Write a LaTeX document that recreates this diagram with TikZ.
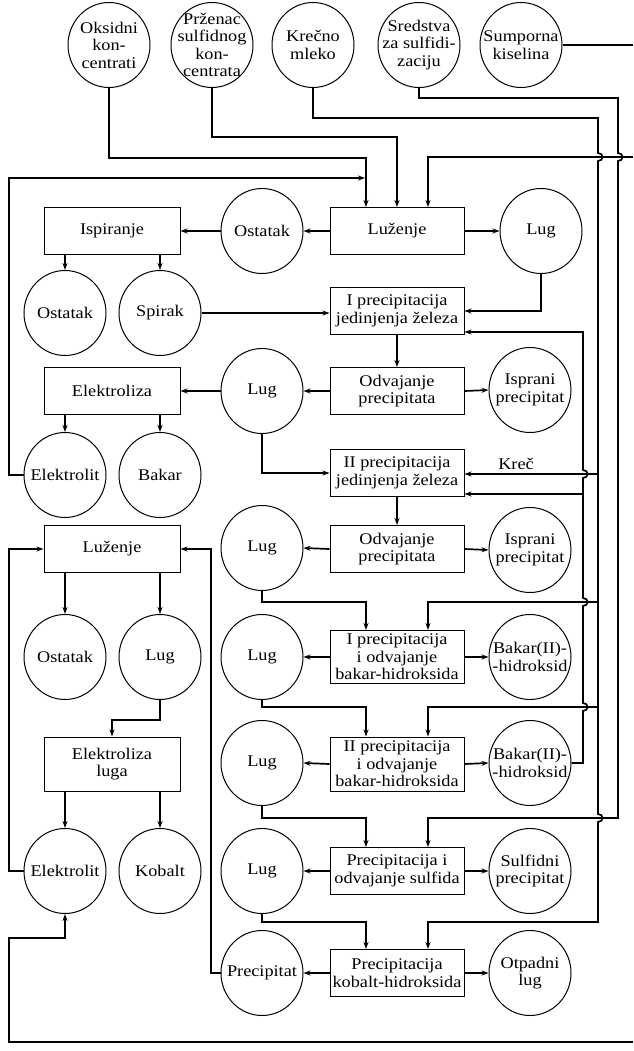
\documentclass[tikz,border=0pt]{standalone}
\usepackage{fontspec}
\setmainfont[FakeStretch=1.12]{Liberation Serif}
\usetikzlibrary{shapes.geometric,arrows.meta}
\begin{document}
\begin{tikzpicture}[x=1pt,y=-1pt,
  circ/.style={ellipse,draw,line width=1pt,minimum width=82pt,minimum height=85pt,inner sep=0pt},
  txt/.style={align=center,inner sep=0pt,font=\fontsize{16.3}{17.5}\selectfont},
  box/.style={rectangle,draw,line width=1pt,minimum width=134pt,minimum height=47pt,inner sep=0pt,align=center,font=\fontsize{16.3}{17.5}\selectfont},
  lbox/.style={box,minimum width=136pt},
  conn/.style={line width=1.7pt},
  arr/.style={conn,-{Stealth[length=7pt,width=5pt]}},
]
\useasboundingbox (0,0) rectangle (633,1051);
\newcommand\mycirc[3]{\node[circ] (#1) at (#2) {}; \node[txt] (#1t) at (#1) {#3};}

% top row
\mycirc{Oks}{109,45}{Oksidni\\kon-\\centrati}
\mycirc{Prz}{212,45}{Prženac\\sulfidnog\\kon-\\centrata}
\mycirc{Krec}{313,45}{Krečno\\mleko}
\mycirc{Sred}{419,45}{Sredstva\\za sulfidi-\\zaciju}
\mycirc{Sump}{521,45}{Sumporna\\kiselina}

% boxes
\node[box] (Luz1) at (397,231) {Luženje};
\node[lbox] (Isp) at (112,231) {Ispiranje};
\node[box] (Iprec) at (397,311) {I precipitacija\\jedinjenja železa};
\node[box] (Odv1) at (397,391) {Odvajanje\\precipitata};
\node[lbox] (Elz) at (112,391) {Elektroliza};
\node[box] (IIprec) at (397,473) {II precipitacija\\jedinjenja železa};
\node[box] (Odv2) at (397,549) {Odvajanje\\precipitata};
\node[lbox] (Luz2) at (112,549) {Luženje};
\node[box,minimum height=53pt] (Ibak) at (397,657) {I precipitacija\\i odvajanje\\bakar-hidroksida};
\node[box,minimum height=54pt] (IIbak) at (397,764) {II precipitacija\\i odvajanje\\bakar-hidroksida};
\node[lbox,minimum height=54pt] (Elzl) at (112,764) {Elektroliza\\luga};
\node[box] (Sulf) at (397,871) {Precipitacija i\\odvajanje sulfida};
\node[box] (KobH) at (397,973) {Precipitacija\\kobalt-hidroksida};

% circles
\mycirc{Ost1}{262,231}{Ostatak}
\mycirc{Lug1}{541,231}{Lug}
\mycirc{Ost2}{65,313}{Ostatak}
\mycirc{Spir}{160,313}{Spirak}
\mycirc{Lug2}{262,391}{Lug}
\mycirc{Isp1}{530,390}{Isprani\\precipitat}
\mycirc{Elt1}{65,475}{Elektrolit}
\mycirc{Bak}{160,475}{Bakar}
\mycirc{Lug3}{262,548}{Lug}
\mycirc{Isp2}{530,550}{Isprani\\precipitat}
\mycirc{Ost3}{65,657}{Ostatak}
\mycirc{Lug4}{160,657}{Lug}
\mycirc{LugB1}{262,657}{Lug}
\mycirc{Bh1}{530,657}{Bakar(II)-\\-hidroksid}
\mycirc{LugB2}{262,763}{Lug}
\mycirc{Bh2}{530,763}{Bakar(II)-\\-hidroksid}
\mycirc{Elt2}{65,871}{Elektrolit}
\mycirc{Kobalt}{160,871}{Kobalt}
\mycirc{LugS}{262,871}{Lug}
\mycirc{Sp}{530,871}{Sulfidni\\precipitat}
\mycirc{Prec}{262,973}{Precipitat}
\mycirc{Otp}{530,973}{Otpadni\\lug}

\node[txt] (krecl) at (516,464) {Kreč};

% helper coordinates
\coordinate (lx) at (366,0);
\coordinate (kx) at (428,0);
\coordinate (eTop) at (633,45);
\coordinate (eMid) at (633,157);
\coordinate (eBot) at (633,1042);
\coordinate (k1) at (598,474);
\coordinate (k2) at (598,602);
\coordinate (k3) at (598,707);
\coordinate (cu1) at (583,332);
\coordinate (cu2) at (583,494);

% feeds to first leaching
\draw[arr] (Oks.south) |- (366,158) -- (Luz1.north -| lx);
\draw[arr] (Prz.south) |- (397,137) -- (Luz1.north);
\draw[conn,line width=1.2pt] (Sump.east) -- (eTop);
\draw[arr] (eMid) -| (Luz1.north -| kx);
\draw[arr] (Elt1.west) -| (9,178) -- (365,178);

% milk of lime line
\draw[arr] (Krec.south) |- (598,118) -- (598,153) .. controls (604,153) and (604,161) .. (598,161)
  -- (598,814) .. controls (604,814) and (604,822) .. (598,822) -- (598,922) -| (KobH.north -| kx);
\draw[arr] (k1) -- (k1 -| IIprec.east);
\draw[arr] (k2) -| (Ibak.north -| kx);
\draw[arr] (k3) -| (IIbak.north -| kx);

% sulfidizing agent line
\draw[arr] (Sred.south) |- (618,98) -- (618,153) .. controls (624,153) and (624,161) .. (618,161)
  -- (618,818) -| (Sulf.north -| kx);

% copper hydroxide recycle
\draw[arr] (Bh2.east) -| (583,711) .. controls (589,711) and (589,703) .. (583,703)
  -- (583,606) .. controls (589,606) and (589,598) .. (583,598)
  -- (583,478) .. controls (589,478) and (589,470) .. (583,470)
  -- (cu1) -- (cu1 -| Iprec.east);
\draw[arr] (cu2) -- (cu2 -| IIprec.east);

% first section
\draw[arr] (Luz1.west) -- (Ost1.east);
\draw[arr] (Ost1.west) -- (Isp.east);
\draw[arr] (Luz1.east) -- (Lug1.west);
\draw[arr] (Isp.south -| Ost2) -- (Ost2.north);
\draw[arr] (Isp.south -| Spir) -- (Spir.north);
\draw[arr] (Spir.east) -- (Spir.east -| Iprec.west);
\draw[arr] (Lug1.south) |- (Iprec.east);
\draw[arr] (Iprec.south) -- (Odv1.north);
\draw[arr] (Odv1.west) -- (Lug2.east);
\draw[arr] (Lug2.west) -- (Elz.east);
\draw[arr] (Odv1.east) -- (Isp1.west);
\draw[arr] (Elz.south -| Elt1) -- (Elt1.north);
\draw[arr] (Elz.south -| Bak) -- (Bak.north);
\draw[arr] (Lug2.south) |- (IIprec.west);
\draw[arr] (IIprec.south) -- (Odv2.north);
\draw[arr] (Odv2.west) -- (Lug3.east);
\draw[arr] (Odv2.east) -- (Isp2.west);
\draw[arr] (Lug3.south) |- (366,602) -- (Ibak.north -| lx);
\draw[arr] (Ibak.west) -- (LugB1.east);
\draw[arr] (Ibak.east) -- (Bh1.west);
\draw[arr] (LugB1.south) |- (366,707) -- (IIbak.north -| lx);
\draw[arr] (IIbak.west) -- (LugB2.east);
\draw[arr] (IIbak.east) -- (Bh2.west);
\draw[arr] (LugB2.south) |- (366,818) -- (Sulf.north -| lx);
\draw[arr] (Sulf.west) -- (LugS.east);
\draw[arr] (Sulf.east) -- (Sp.west);
\draw[arr] (LugS.south) |- (366,922) -- (KobH.north -| lx);
\draw[arr] (KobH.west) -- (Prec.east);
\draw[arr] (KobH.east) -- (Otp.west);

% cobalt section
\draw[arr] (Prec.west) -| (211,549) -- (Luz2.east);
\draw[arr] (Luz2.south -| Ost3) -- (Ost3.north);
\draw[arr] (Luz2.south -| Lug4) -- (Lug4.north);
\draw[arr] (Lug4.south) |- (112,720) -- (Elzl.north);
\draw[arr] (Elzl.south -| Elt2) -- (Elt2.north);
\draw[arr] (Elzl.south -| Kobalt) -- (Kobalt.north);
\draw[arr] (Elt2.west) -| (9,549) -- (Luz2.west);
\draw[arr] (eBot) -| (9,938) -| (Elt2.south);
\end{tikzpicture}
\end{document}
